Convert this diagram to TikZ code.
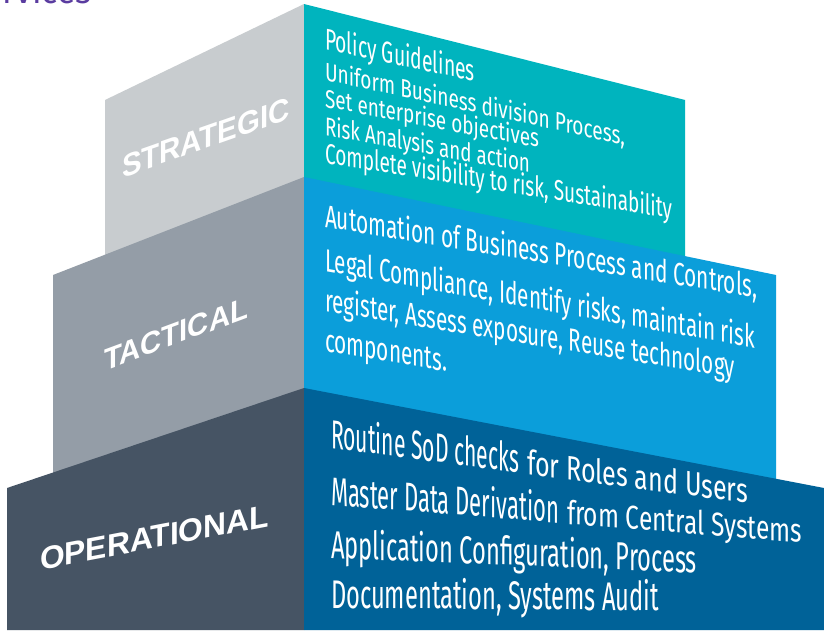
\documentclass[tikz,border=0pt]{standalone}
\usepackage{fontspec}
\usepackage{graphicx}
\setmainfont{Fira Sans}
\newfontfamily\labelfont{Liberation Sans}
\definecolor{sL}{RGB}{200,204,207}
\definecolor{sR}{RGB}{0,180,190}
\definecolor{tL}{RGB}{148,157,167}
\definecolor{tR}{RGB}{11,158,218}
\definecolor{oL}{RGB}{70,84,100}
\definecolor{oR}{RGB}{0,98,152}
\definecolor{purp}{RGB}{90,60,160}
\newdimen\fitlen
\newcommand\fitw[2]{\settowidth\fitlen{#2}\scalebox{\fpeval{#1/\fitlen}}[1]{#2}}
\newcommand\fsz[1]{\fontsize{#1}{#1}\selectfont}
% name, x, baseline y, yslant, font size, target width, text
\newcommand\sline[7]{\begin{scope}[shift={(#2,#3)},yslant=#4]\node[facetext,font=\fsz{#5}] (#1) at (0,0) {\fitw{#6}{#7}};\end{scope}}
\newcommand\lline[7]{\begin{scope}[shift={(#2,#3)},yslant=#4]\node[facetext,font=\labelfont\bfseries\fsz{#5}] (#1) at (0,0) {\fitw{#6}{#7}};\end{scope}}
\tikzset{facetext/.style={anchor=base west,inner sep=0pt,outer sep=0pt,transform shape,text=white}}
\begin{document}
\begin{tikzpicture}[x=1pt,y=-1pt]
\useasboundingbox (0,0) rectangle (824,632);
\fill[white] (0,0) rectangle (824,632);
% clipped heading
\node[anchor=base east,inner sep=0pt,text=purp,font=\fsz{34}] (head) at (92,3.5) {Services};
% strategic
\fill[sL] (105,100) -- (304,4) -- (304,200) -- (105,280) -- cycle;
\fill[sR] (304,4) -- (685,100) -- (685,270) -- (304,190) -- cycle;
% tactical
\fill[tL] (53,275) -- (304,177) -- (304,400) -- (53,480) -- cycle;
\fill[tR] (304,177) -- (776,275) -- (776,490) -- (304,400) -- cycle;
% operational
\fill[oL] (7,488) -- (304,388) -- (304,630) -- (7,630) -- cycle;
\fill[oR] (304,388) -- (824,488) -- (824,630) -- (304,630) -- cycle;
% left labels
\lline{lstrat}{122}{178}{0.35}{32}{168}{STRATEGIC}
\lline{ltact}{104}{371}{0.37}{31}{144}{TACTICAL}
\lline{loper}{40}{570}{0.19}{32}{229}{OPERATIONAL}
% strategic text
\sline{s1}{325}{49}{-0.218}{30}{150}{Policy Guidelines}
\sline{s2}{325}{80}{-0.217}{25.5}{300}{Uniform Business division Process,}
\sline{s3}{325}{107}{-0.19}{25.5}{214}{Set enterprise objectives}
\sline{s4}{325}{135}{-0.185}{26}{205}{Risk Analysis and action}
\sline{s5}{325}{163}{-0.16}{28.5}{347}{Complete visibility to risk, Sustainability}
% tactical text
\sline{t1}{325}{227}{-0.164}{32}{432}{Automation of Business Process and Controls,}
\sline{t2}{325}{271}{-0.179}{32}{430}{Legal Compliance, Identify risks, maintain risk}
\sline{t3}{325}{311}{-0.163}{32}{410}{register, Assess exposure, Reuse technology}
\sline{t4}{325}{351}{-0.17}{32}{122}{components.}
% operational text
\sline{o1a}{331}{448}{-0.132}{40.5}{188}{Routine SoD checks}
\sline{o1b}{527}{474}{-0.132}{34}{221}{for Roles and Users}
\sline{o2a}{331}{505}{-0.079}{40}{228}{Master Data Derivation}
\sline{o2b}{567}{524}{-0.079}{33}{235}{from Central Systems}
\sline{o3}{331}{558}{-0.041}{39}{366}{Application Configuration, Process}
\sline{o4}{331}{608}{-0.008}{40}{328}{Documentation, Systems Audit}
\end{tikzpicture}
\end{document}
